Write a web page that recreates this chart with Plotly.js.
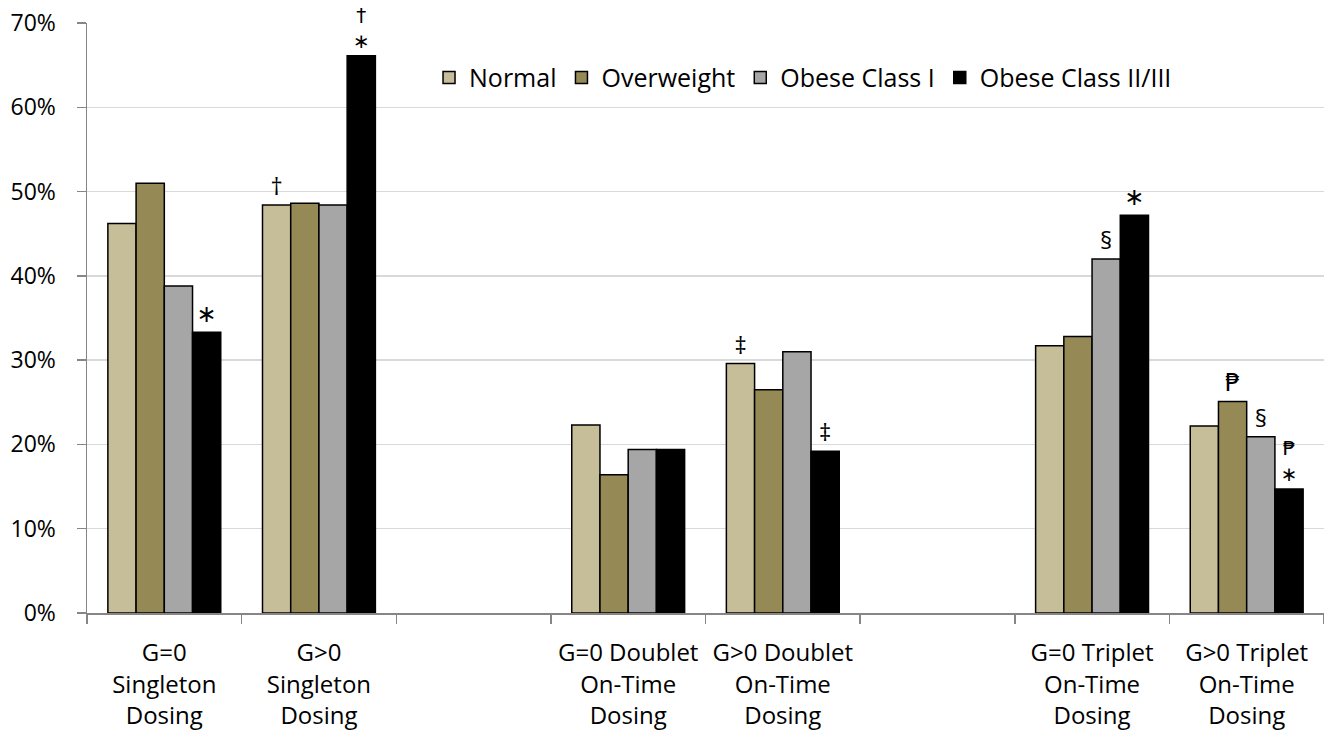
<!DOCTYPE html>
<html>
<head>
<meta charset="utf-8">
<script src="https://cdn.plot.ly/plotly-3.0.1.min.js"></script>
<style>html,body{margin:0;padding:0;background:#fff;}#chart{width:1324px;height:735px;}</style>
</head>
<body>
<div id="chart"></div>
<script>
const categories = ['c1', 'c2', 'gap1', 'c3', 'c4', 'gap2', 'c5', 'c6'];
const tickLabels = [
  'G=0<br>Singleton<br>Dosing',
  'G&gt;0<br>Singleton<br>Dosing',
  '',
  'G=0 Doublet<br>On-Time<br>Dosing',
  'G&gt;0 Doublet<br>On-Time<br>Dosing',
  '',
  'G=0 Triplet<br>On-Time<br>Dosing',
  'G&gt;0 Triplet<br>On-Time<br>Dosing'
];
const seriesNames = ['Normal', 'Overweight', 'Obese Class I', 'Obese Class II/III'];
const normal     = [46.2, 48.4, null, 22.3, 29.6, null, 31.7, 22.2];
const overweight = [51.0, 48.6, null, 16.4, 26.5, null, 32.8, 25.1];
const obeseI     = [38.8, 48.4, null, 19.4, 31.0, null, 42.0, 20.9];
const obeseII    = [33.3, 66.1, null, 19.4, 19.2, null, 47.2, 14.7];
const normalMarks     = ['', '†', '', '', '‡', '', '', ''];
const overweightMarks = ['', '', '', '', '', '', '', '₱'];
const obeseIMarks     = ['', '', '', '', '', '', '§', '§'];
const obeseIIMarks    = ['∗', '†<br>∗', '', '', '‡', '', '∗', '₱<br>∗'];
const colors = ['#C6BE98', '#958A55', '#A6A6A6', '#000000'];

const values = [normal, overweight, obeseI, obeseII];
const marks = [normalMarks, overweightMarks, obeseIMarks, obeseIIMarks];

const traces = seriesNames.map((name, i) => ({
  type: 'bar',
  name: name,
  x: categories,
  y: values[i],
  text: marks[i],
  textposition: 'outside',
  textfont: {
    family: marks[i].map(m => m.includes('<br>') ? 'DejaVu Sans, sans-serif' : 'Open Sans, DejaVu Sans, sans-serif'),
    size: marks[i].map(m => m.includes('<br>') ? 20 : 24),
    color: '#000'
  },
  cliponaxis: false,
  marker: {color: colors[i], line: {color: '#000', width: 1.5}},
  hoverinfo: 'skip'
}));

const layout = {
  width: 1324,
  height: 735,
  margin: {l: 87, r: 0, t: 23, b: 122},
  paper_bgcolor: '#fff',
  plot_bgcolor: '#fff',
  font: {family: 'Open Sans, DejaVu Sans, sans-serif', color: '#000'},
  barmode: 'group',
  bargap: 0.27,
  bargroupgap: 0,
  showlegend: true,
  legend: {
    orientation: 'h',
    x: 0.2765, xanchor: 'left',
    y: 0.907, yanchor: 'middle',
    font: {size: 25, color: '#000'},
    bgcolor: 'rgba(0,0,0,0)',
    itemclick: false
  },
  xaxis: {
    type: 'category',
    categoryorder: 'array',
    categoryarray: categories,
    tickmode: 'array',
    tickvals: categories,
    ticktext: tickLabels,
    tickson: 'boundaries',
    ticks: 'outside',
    ticklen: 9,
    tickcolor: '#868686',
    tickwidth: 1.5,
    showline: true,
    linecolor: '#868686',
    linewidth: 1.5,
    showgrid: false,
    range: [-0.5, 7.5],
    tickfont: {size: 24, color: '#000'},
    ticklabelstandoff: 18,
    fixedrange: true
  },
  yaxis: {
    range: [0, 70],
    dtick: 10,
    ticksuffix: '%',
    ticks: 'outside',
    ticklen: 9,
    tickcolor: '#868686',
    tickwidth: 1.5,
    showline: true,
    linecolor: '#868686',
    linewidth: 1.5,
    showgrid: true,
    gridcolor: '#D9D9D9',
    gridwidth: 1.5,
    zeroline: false,
    tickfont: {size: 23, color: '#000'},
    ticklabelstandoff: 16,
    fixedrange: true
  }
};

Plotly.newPlot('chart', traces, layout, {displayModeBar: false, staticPlot: true});
</script>
</body>
</html>
